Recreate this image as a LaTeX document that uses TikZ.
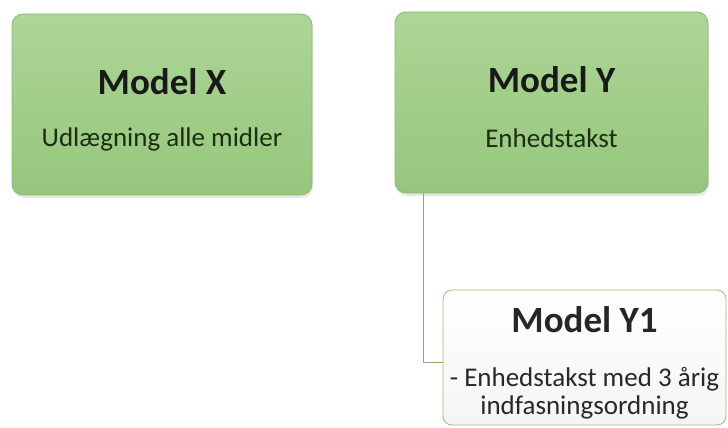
\documentclass[tikz,border=0pt]{standalone}
\usepackage{fontspec}
\setmainfont{Carlito}
\usetikzlibrary{positioning,shadows}

\definecolor{boxtop}{RGB}{172,214,150}
\definecolor{boxbottom}{RGB}{150,198,124}
\definecolor{boxedge}{RGB}{140,184,112}
\definecolor{linkgreen}{RGB}{138,170,104}
\definecolor{subgreen}{RGB}{28,46,18}
\definecolor{subgray}{RGB}{40,40,40}
\definecolor{paleedge}{RGB}{150,190,120}

\tikzset{
  model/.style={draw=boxedge, line width=0.8pt, rounded corners=11pt,
    top color=boxtop, bottom color=boxbottom,
    drop shadow={opacity=0.18, shadow xshift=1pt, shadow yshift=-3pt},
    minimum width=300pt, minimum height=181pt, inner sep=0pt},
  submodel/.style={draw=paleedge, line width=0.8pt, rounded corners=9pt,
    top color=white, bottom color=black!4,
    minimum width=283pt, minimum height=135pt, inner sep=0pt},
  modtitle/.style={font=\fontsize{37}{44}\selectfont\bfseries, text=black!90, inner sep=0pt},
  modtext/.style={font=\fontsize{27}{28}\selectfont, text=subgreen, inner sep=0pt, align=center},
  link/.style={draw=linkgreen, line width=0.8pt}
}

\begin{document}
\begin{tikzpicture}[x=1pt,y=-1pt]
    \useasboundingbox (0,0) rectangle (728,428);

    % boxes
    \node[model] (X) at (162,104.5) {};
    \node[model, minimum width=313pt, minimum height=181pt] (Y) at (551.5,102.5) {};
    \node[submodel] (Y1) at (584.5,357.5) {};

    % texts
    \node[modtitle, anchor=base] (Xtitle) at ([yshift=-81pt]X.north) {Model X};
    \node[modtext, anchor=base] (Xtext) at ([yshift=-52pt]Xtitle.base) {Udlægning alle midler};
    \node[modtitle, anchor=base] (Ytitle) at ([yshift=-81pt]Y.north) {Model Y};
    \node[modtext, anchor=base] (Ytext) at ([yshift=-55pt]Ytitle.base) {Enhedstakst};
    \node[modtitle, anchor=base, text=black!85] (Y1title) at ([yshift=-43pt]Y1.north) {Model Y1};
    \node[modtext, anchor=base, text=subgray] (Y1text) at ([yshift=-82pt]Y1title.base)
        {- Enhedstakst med 3 årig\\indfasningsordning};

    % connector
    \draw[link] ([xshift=29pt]Y.south west) |- ([yshift=-4.5pt]Y1.west);
\end{tikzpicture}
\end{document}
